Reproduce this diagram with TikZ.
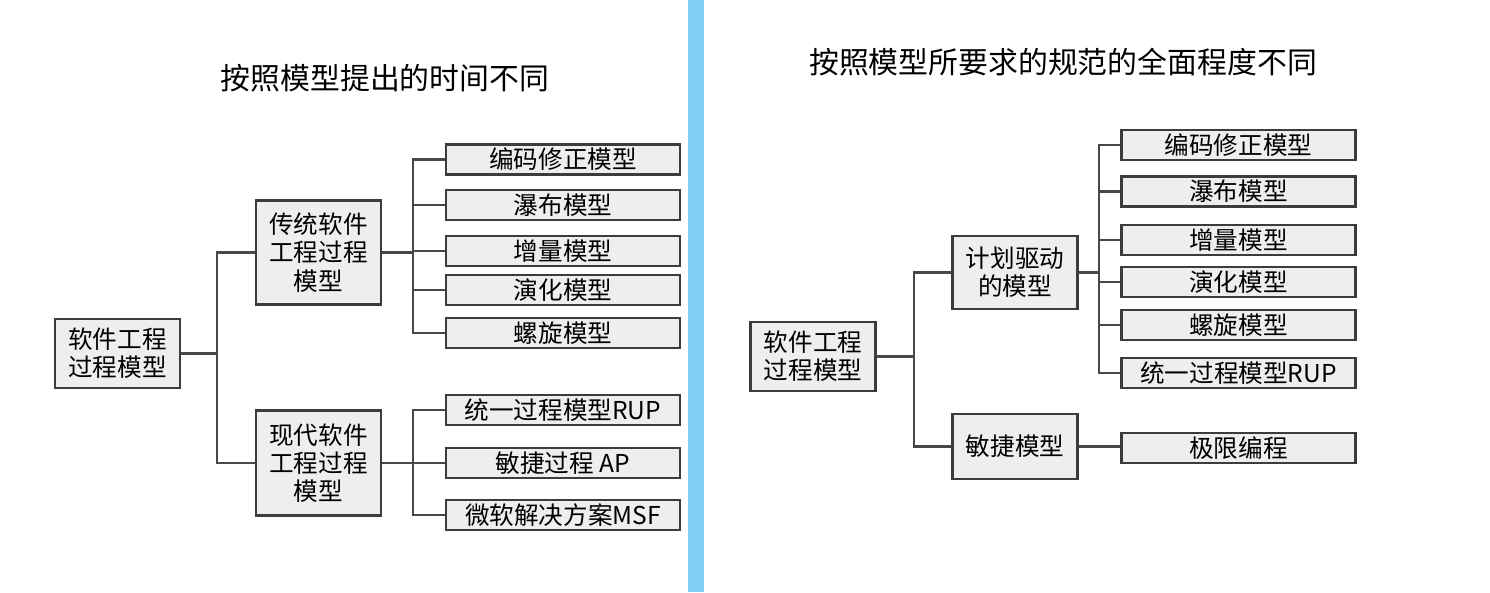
\documentclass[tikz,border=0pt]{standalone}
\usepackage{fontspec}
\setmainfont{Noto Sans CJK SC}
\usepackage{tikz}
\usepackage{xcolor}
\definecolor{BoxFill}{HTML}{EEEEEE}
\definecolor{BoxLine}{HTML}{3C3C3C}
\definecolor{LinkGray}{HTML}{484848}
\definecolor{BarBlue}{HTML}{82CFF3}

\begin{document}
\begin{tikzpicture}[x=0.02cm, y=-0.02cm,
    box/.style={draw=BoxLine, fill=BoxFill, line width=1.6pt, align=center,
                inner sep=0pt, font=\fontsize{14}{16}\selectfont},
    rootbox/.style={box, minimum width=2.5cm, minimum height=1.38cm},
    groupbox/.style={box, minimum width=2.5cm, minimum height=2.08cm},
    leafbox/.style={box, minimum width=4.68cm, minimum height=0.6cm},
    title/.style={font=\fontsize{17}{20}\selectfont, inner sep=0pt},
    link/.style={draw=LinkGray, line width=1.3pt}
]
\useasboundingbox (0,0) rectangle (1490,592);
\fill[BarBlue] (688,0) rectangle (704,592);

% left: by time of proposal
\node[title] (titleL) at (385,78) {按照模型提出的时间不同};
\node[rootbox] (root) at (117.5,353.5) {软件工程\\过程模型};
\node[groupbox] (trad) at (318.5,252.5) {传统软件\\工程过程\\模型};
\node[groupbox, minimum height=2.1cm] (modern) at (318.5,463) {现代软件\\工程过程\\模型};

\node[leafbox] (code) at (563,159.5) {编码修正模型};
\node[leafbox] (fall) at (563,205) {瀑布模型};
\node[leafbox] (incr) at (563,251) {增量模型};
\node[leafbox] (evol) at (563,290) {演化模型};
\node[leafbox] (spir) at (563,333) {螺旋模型};
\node[leafbox] (rup) at (563,410) {统一过程模型RUP};
\node[leafbox] (ap) at (563,463) {敏捷过程 AP};
\node[leafbox] (msf) at (563,515) {微软解决方案MSF};

\coordinate (forkA) at (217,0);
\coordinate (forkB) at (413,0);
\draw[link] (root.east) -- (root.east -| forkA) |- (trad.west);
\draw[link] (root.east -| forkA) |- (modern.west);
\draw[link] (trad.east) -- (trad.east -| forkB) |- (code.west);
\draw[link] (trad.east -| forkB) |- (fall.west);
\draw[link] (trad.east -| forkB) |- (incr.west);
\draw[link] (trad.east -| forkB) |- (evol.west);
\draw[link] (trad.east -| forkB) |- (spir.west);
\draw[link] (modern.east) -- (modern.east -| forkB) |- (rup.west);
\draw[link] (modern.east -| forkB) |- (ap.west);
\draw[link] (modern.east -| forkB) |- (msf.west);

% right: by how complete the required norms are
\node[title] (titleR) at (1063,62) {按照模型所要求的规范的全面程度不同};
\node[rootbox] (rroot) at (813,356.5) {软件工程\\过程模型};
\node[groupbox, minimum height=1.46cm] (plan) at (1015,272.5) {计划驱动\\的模型};
\node[groupbox, minimum height=1.3cm] (agile) at (1015,446.5) {敏捷模型};

\node[leafbox] (rcode) at (1238.5,145) {编码修正模型};
\node[leafbox] (rfall) at (1238.5,191.5) {瀑布模型};
\node[leafbox] (rincr) at (1238.5,240) {增量模型};
\node[leafbox] (revol) at (1238.5,282) {演化模型};
\node[leafbox] (rspir) at (1238.5,325) {螺旋模型};
\node[leafbox] (rrup) at (1238.5,373) {统一过程模型RUP};
\node[leafbox] (xp) at (1238.5,448) {极限编程};

\coordinate (forkC) at (914,0);
\coordinate (forkD) at (1099,0);
\draw[link] (rroot.east) -- (rroot.east -| forkC) |- (plan.west);
\draw[link] (rroot.east -| forkC) |- (agile.west);
\draw[link] (plan.east) -- (plan.east -| forkD) |- (rcode.west);
\draw[link] (plan.east -| forkD) |- (rfall.west);
\draw[link] (plan.east -| forkD) |- (rincr.west);
\draw[link] (plan.east -| forkD) |- (revol.west);
\draw[link] (plan.east -| forkD) |- (rspir.west);
\draw[link] (plan.east -| forkD) |- (rrup.west);
\draw[link] (agile.east) -- (xp.west |- agile.east);
\end{tikzpicture}
\end{document}
